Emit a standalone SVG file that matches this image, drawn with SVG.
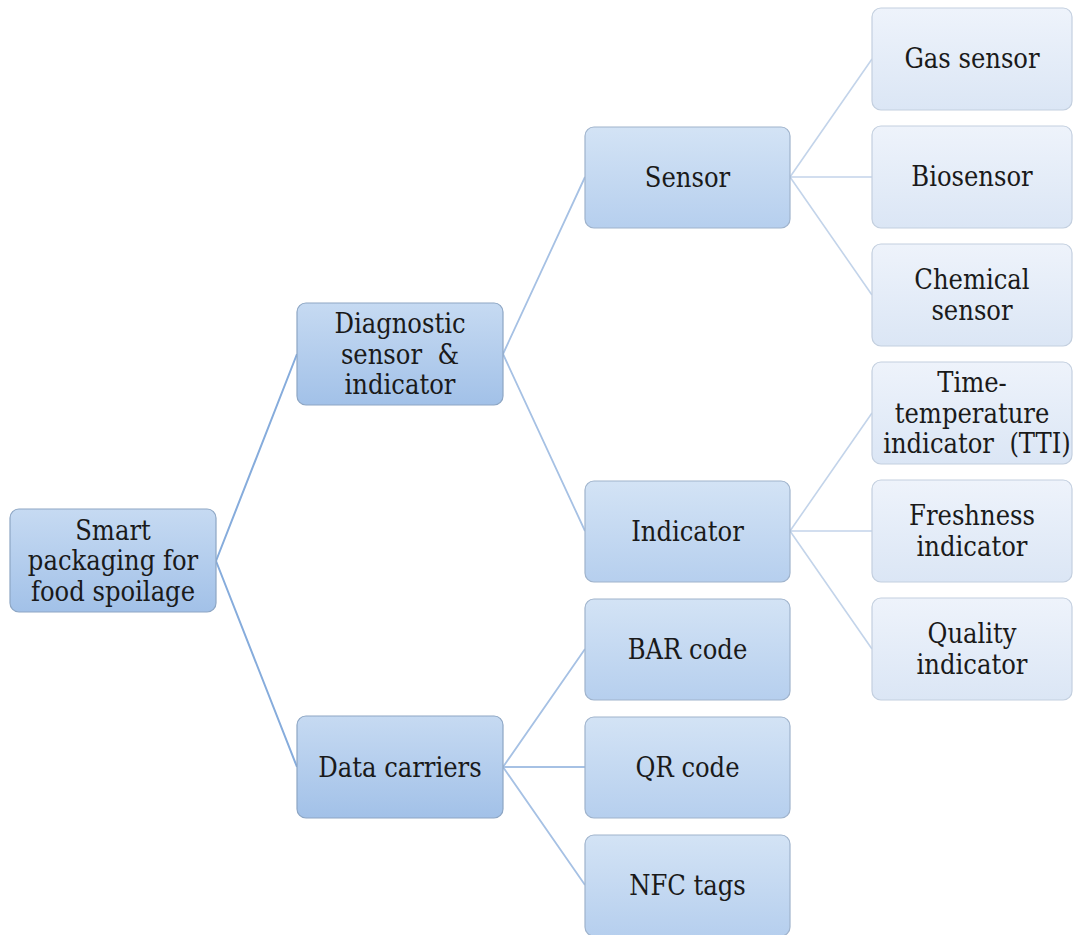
<svg xmlns="http://www.w3.org/2000/svg" width="1073" height="935" viewBox="0 0 1073 935">
<style>
.t{font-family:"DejaVu Serif Condensed","DejaVu Serif",serif;font-stretch:condensed;font-size:27px;fill:#1a1a1a;text-anchor:middle}
.n0{fill:url(#g0);stroke:#8da6c4;stroke-width:1.2}
.n1{fill:url(#g1);stroke:#9fb3cc;stroke-width:1.2}
.n2{fill:url(#g2);stroke:#c3cfdf;stroke-width:1.2}
.c0{stroke:#86acdc;stroke-width:2;fill:none}
.c1{stroke:#a6c1e4;stroke-width:1.8;fill:none}
.c2{stroke:#c3d4ea;stroke-width:1.6;fill:none}
</style>
<defs>
<linearGradient id="g0" x1="0" y1="0" x2="0" y2="1"><stop offset="0" stop-color="#c6daf2"/><stop offset="1" stop-color="#a2c1e8"/></linearGradient>
<linearGradient id="g1" x1="0" y1="0" x2="0" y2="1"><stop offset="0" stop-color="#d3e3f5"/><stop offset="1" stop-color="#b6cfee"/></linearGradient>
<linearGradient id="g2" x1="0" y1="0" x2="0" y2="1"><stop offset="0" stop-color="#eef3fb"/><stop offset="1" stop-color="#dbe6f5"/></linearGradient>
</defs>
<rect width="1073" height="935" fill="#ffffff"/>
<g id="connectors">
<path class="c0" d="M216 561 L297 354 M216 561 L297 767"/>
<path class="c1" d="M503 354 L585 177 M503 354 L585 531 M503 767 L585 649 M503 767 L585 767 M503 767 L585 885"/>
<path class="c2" d="M790 177 L872 59 M790 177 L872 177 M790 177 L872 295 M790 531 L872 413 M790 531 L872 531 M790 531 L872 649"/>
</g>
<g id="root"><rect class="n0" x="10" y="509" width="206" height="103" rx="9"/>
<text class="t" x="113" y="539.5">Smart</text><text class="t" x="113" y="570">packaging for</text><text class="t" x="113" y="600.5">food spoilage</text></g>
<g id="diagnostic"><rect class="n0" x="297" y="303" width="206" height="102" rx="9"/>
<text class="t" x="400" y="333">Diagnostic</text><text class="t" x="400" y="363.5" xml:space="preserve">sensor  &amp;</text><text class="t" x="400" y="394">indicator</text></g>
<g id="datacarriers"><rect class="n0" x="297" y="716" width="206" height="102" rx="9"/>
<text class="t" x="400" y="777">Data carriers</text></g>
<g id="sensor"><rect class="n1" x="585" y="127" width="205" height="101" rx="9"/>
<text class="t" x="687.5" y="187">Sensor</text></g>
<g id="indicator"><rect class="n1" x="585" y="481" width="205" height="101" rx="9"/>
<text class="t" x="687.5" y="541">Indicator</text></g>
<g id="barcode"><rect class="n1" x="585" y="599" width="205" height="101" rx="9"/>
<text class="t" x="687.5" y="659">BAR code</text></g>
<g id="qrcode"><rect class="n1" x="585" y="717" width="205" height="101" rx="9"/>
<text class="t" x="687.5" y="777">QR code</text></g>
<g id="nfctags"><rect class="n1" x="585" y="835" width="205" height="101" rx="9"/>
<text class="t" x="687.5" y="895">NFC tags</text></g>
<g id="gassensor"><rect class="n2" x="872" y="8" width="200" height="102" rx="9"/>
<text class="t" x="972" y="68">Gas sensor</text></g>
<g id="biosensor"><rect class="n2" x="872" y="126" width="200" height="102" rx="9"/>
<text class="t" x="972" y="186">Biosensor</text></g>
<g id="chemicalsensor"><rect class="n2" x="872" y="244" width="200" height="102" rx="9"/>
<text class="t" x="972" y="289">Chemical</text><text class="t" x="972" y="319.5">sensor</text></g>
<g id="tti"><rect class="n2" x="872" y="362" width="200" height="102" rx="9"/>
<text class="t" x="972" y="392">Time-</text><text class="t" x="972" y="422.5">temperature</text><text class="t" x="977" y="453" xml:space="preserve">indicator  (TTI)</text></g>
<g id="freshness"><rect class="n2" x="872" y="480" width="200" height="102" rx="9"/>
<text class="t" x="972" y="525">Freshness</text><text class="t" x="972" y="555.5">indicator</text></g>
<g id="quality"><rect class="n2" x="872" y="598" width="200" height="102" rx="9"/>
<text class="t" x="972" y="643">Quality</text><text class="t" x="972" y="673.5">indicator</text></g>
</svg>
